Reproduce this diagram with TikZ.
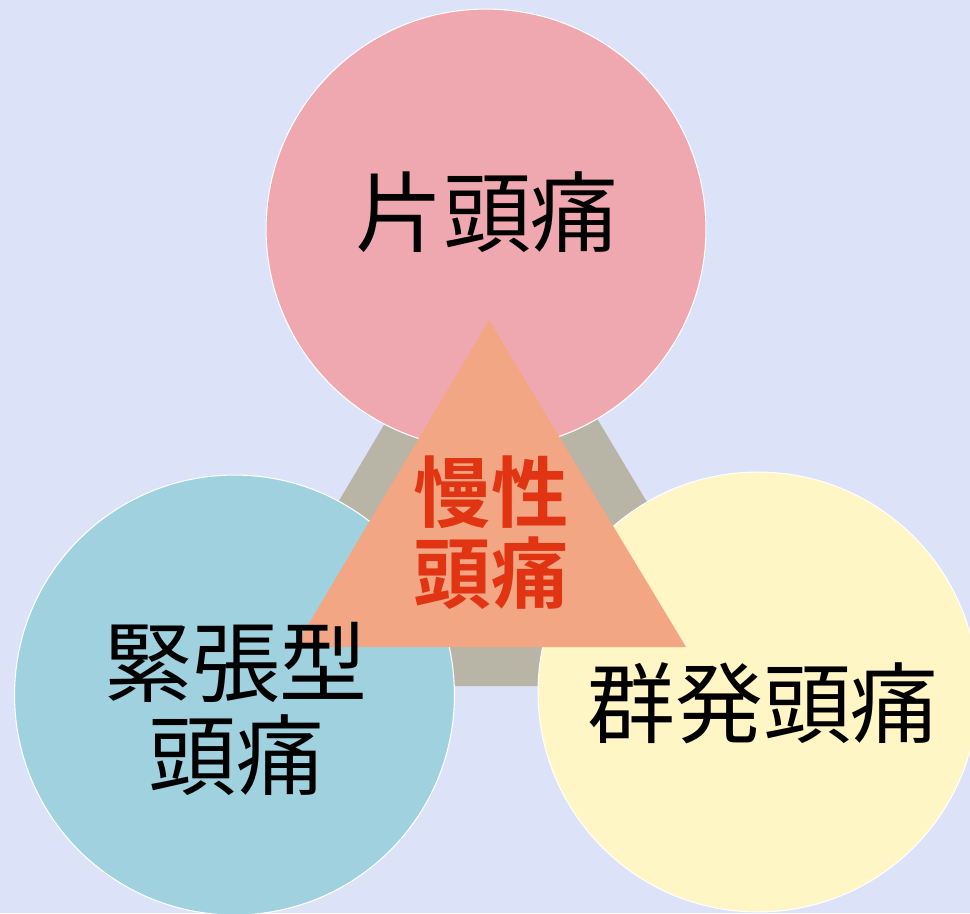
\documentclass[tikz,border=0pt]{standalone}
\usepackage{fontspec}
\newfontfamily\jpfont{Noto Sans CJK JP}
\newfontfamily\jpbold{Noto Sans CJK JP Bold}
\definecolor{bgc}{HTML}{DCE2F7}
\definecolor{pinkc}{HTML}{F0A8B0}
\definecolor{bluec}{HTML}{A0D1DE}
\definecolor{yellowc}{HTML}{FFF5C5}
\definecolor{grayc}{HTML}{B8B4A6}
\definecolor{salmonc}{HTML}{F2A683}
\definecolor{redc}{HTML}{E03412}
\begin{document}
\begin{tikzpicture}[x=0.02cm,y=-0.02cm,
  bubble/.style={circle,draw=white,line width=0.6pt,inner sep=0pt,minimum size=8.8cm},
  mainlabel/.style={font={\jpfont\fontsize{50}{53}\selectfont},text=black,align=center,inner sep=0pt},
  corelabel/.style={font={\jpbold\fontsize{44}{46}\selectfont},text=redc,align=center,inner sep=0pt}]
\fill[bgc] (0,0) rectangle (970,913);
\useasboundingbox (0,0) rectangle (970,913);
% gray background triangle
\fill[grayc] (492,243) -- (229,686) -- (757,686) -- cycle;
% circles
\node[bubble,fill=pinkc] (migraine) at (486,229) {};
\node[bubble,fill=bluec] (tension) at (234.5,695) {};
\node[bubble,fill=yellowc] (cluster) at (758,692) {};
% central triangle
\fill[salmonc] (489,320) -- (295,647) -- (686,647) -- cycle;
% labels
\node[mainlabel] (tmig) at (487,212) {片頭痛};
\node[mainlabel] (tten) at (236,709) {緊張型\\頭痛};
\node[mainlabel] (tclu) at (763,703) {群発頭痛};
\node[corelabel] (tcore) at (491,533) {慢性\\頭痛};
\end{tikzpicture}
\end{document}
